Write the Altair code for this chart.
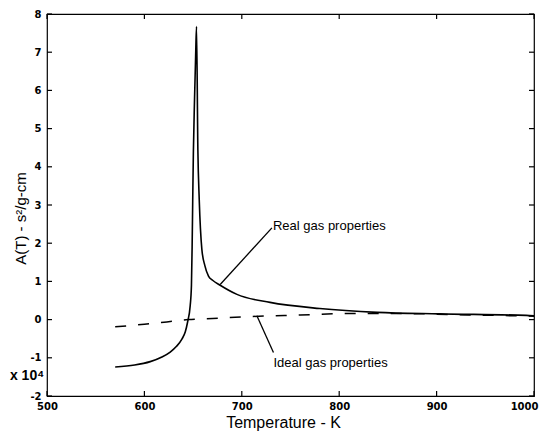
import altair as alt
import pandas as pd

# Real gas curve (solid)
T_real = [570, 590, 606, 618, 626.5, 633, 638.5, 642, 644.3, 647.0, 648.3, 649.0, 649.6, 650.3, 651.5, 652.6, 653.5,
          654.9, 656.3, 659.0, 662.0, 665.8, 670.0, 677.8, 695, 729, 780, 839, 903, 992, 1000]
A_real = [-1.24, -1.19, -1.10, -0.98, -0.85, -0.70, -0.51, -0.32, -0.07, 0.36, 0.9, 1.9, 3.1, 4.4, 5.8, 6.9, 7.67,
          4.44, 3.14, 1.84, 1.42, 1.14, 1.03, 0.90, 0.66, 0.45, 0.29, 0.19, 0.15, 0.11, 0.10]

# Ideal gas curve (dashed)
T_ideal = [570, 600, 623, 645, 670, 700, 760, 814, 860, 920, 1000]
A_ideal = [-0.19, -0.12, -0.06, 0.0, 0.03, 0.07, 0.12, 0.16, 0.16, 0.13, 0.09]

x_ticks = [500, 600, 700, 800, 900, 1000]
y_ticks = [-2, -1, 0, 1, 2, 3, 4, 5, 6, 7, 8]

ann_labels = ["Real gas properties", "Ideal gas properties"]
ann_T = [732, 732.5]
ann_A = [2.45, -1.14]

lead_T = [730.9, 715.5]
lead_A = [2.40, 0.10]
lead_T2 = [677.8, 732.5]
lead_A2 = [0.92, -0.86]

mult_label = ["x 10⁴"]
mult_T = [479.5]
mult_A = [-1.48]

W, H = 487, 382
TICK = 5

real_df = pd.DataFrame({"T": T_real, "A": A_real})
ideal_df = pd.DataFrame({"T": T_ideal, "A": A_ideal})
ann_df = pd.DataFrame({"T": ann_T, "A": ann_A, "label": ann_labels})
lead_df = pd.DataFrame({"T": lead_T, "A": lead_A, "T2": lead_T2, "A2": lead_A2})
mult_df = pd.DataFrame({"T": mult_T, "A": mult_A, "label": mult_label})
xt_df = pd.DataFrame({"T": x_ticks})
yt_df = pd.DataFrame({"A": y_ticks})

xs = alt.Scale(domain=[500, 1000], nice=False, zero=False)
ys = alt.Scale(domain=[-2, 8], nice=False, zero=False)

lab = dict(labelFont="DejaVu Sans", labelFontWeight="bold", labelFontSize=10, labelColor="black")

x_main = alt.Axis(orient="bottom", values=x_ticks, ticks=False, domain=False, grid=False,
                  labelPadding=5, format="d", title="Temperature - K", titleFont="Liberation Sans",
                  titleFontSize=16, titleFontWeight="normal", titleColor="black",
                  titleX=236, titleY=26, titleBaseline="middle", titleAlign="center",
                  labelAlign={"expr": "datum.value == 1000 ? 'right' : 'center'"},
                  labelOffset={"expr": "datum.value == 1000 ? 4 : 0"}, **lab)
y_main = alt.Axis(orient="left", values=y_ticks, ticks=False, domain=False, grid=False,
                  labelPadding=6,
                  labelExpr="datum.value < 0 ? '-' + abs(datum.value) : '' + datum.value",
                  title="A(T) - s²/g-cm", titleFont="Liberation Sans",
                  titleFontSize=15, titleFontWeight="normal", titleColor="black",
                  titleX=-27, titleY=204, titleAngle=270, titleBaseline="middle",
                  titleAlign="center", **lab)


def X(field):
    return alt.X(field, scale=xs, axis=x_main)


def Y(field):
    return alt.Y(field, scale=ys, axis=y_main)


real = alt.Chart(real_df).mark_line(color="black", strokeWidth=1.6, interpolate="monotone").encode(
    x=X("T:Q"), y=Y("A:Q"), order=alt.Order("T:Q"),
)
ideal = alt.Chart(ideal_df).mark_line(color="black", strokeWidth=1.5, strokeDash=[11, 12],
                                      interpolate="monotone").encode(
    x=X("T:Q"), y=Y("A:Q"),
)
texts = alt.Chart(ann_df).mark_text(align="left", baseline="middle", font="Liberation Sans",
                                    fontSize=13, color="black").encode(
    x=X("T:Q"), y=Y("A:Q"), text="label:N",
)
leads = alt.Chart(lead_df).mark_rule(color="black", strokeWidth=1.3).encode(
    x=X("T:Q"), y=Y("A:Q"), x2="T2:Q", y2="A2:Q",
)
mult = alt.Chart(mult_df).mark_text(align="center", baseline="middle", font="Liberation Sans",
                                    fontSize=14, fontWeight="bold", color="black").encode(
    x=X("T:Q"), y=Y("A:Q"), text="label:N",
)

# inward ticks drawn through the scales
xt_bottom = alt.Chart(xt_df).mark_rule(color="black", strokeWidth=1.2).encode(
    x=X("T:Q"), y=alt.value(H), y2=alt.value(H - TICK))
xt_top = alt.Chart(xt_df).mark_rule(color="black", strokeWidth=1.2).encode(
    x=X("T:Q"), y=alt.value(0), y2=alt.value(TICK))
yt_left = alt.Chart(yt_df).mark_rule(color="black", strokeWidth=1.2).encode(
    y=Y("A:Q"), x=alt.value(0), x2=alt.value(TICK))
yt_right = alt.Chart(yt_df).mark_rule(color="black", strokeWidth=1.2).encode(
    y=Y("A:Q"), x=alt.value(W - TICK), x2=alt.value(W))

chart = alt.layer(real, ideal, texts, leads, mult, xt_bottom, xt_top, yt_left, yt_right).properties(
    width=W, height=H,
    autosize=alt.AutoSizeParams(type="none"),
    padding={"left": 39, "top": 6, "right": 5, "bottom": 37},
    background="white",
).configure_view(stroke="black", strokeWidth=1.2)

chart.save("out.html", embed_options={"renderer": "svg", "actions": False})
